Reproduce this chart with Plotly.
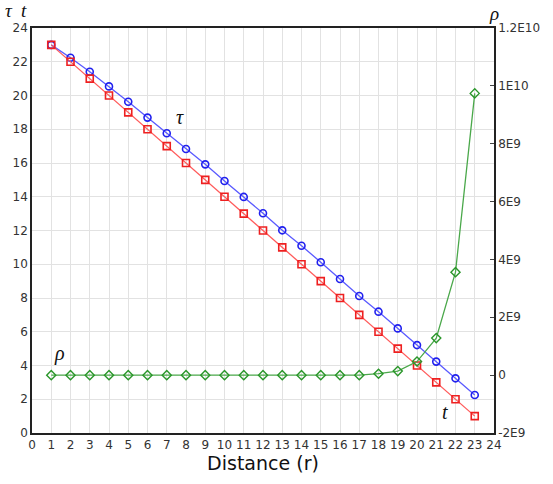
import plotly.graph_objects as go

x_vals = list(range(1, 24))
t_vals = [23, 22, 21, 20, 19, 18, 17, 16, 15, 14, 13, 12, 11, 10, 9, 8, 7, 6, 5, 4, 3, 2, 1]
tau_vals = [23.0, 22.24, 21.41, 20.54, 19.63, 18.69, 17.76, 16.83, 15.92, 14.93, 13.99, 13.02,
            12.01, 11.10, 10.12, 9.13, 8.12, 7.19, 6.20, 5.21, 4.23, 3.24, 2.25]
rho_vals = [0, 0, 0, 0, 0, 0, 0, 0, 0, 0, 0, 0, 0, 0, 0, 0, 0, 0.05e9, 0.14e9, 0.47e9, 1.28e9, 3.56e9, 9.74e9]

x_ticks = list(range(0, 25))
y_ticks = list(range(0, 25, 2))
y2_ticks = [-2e9, 0, 2e9, 4e9, 6e9, 8e9, 1e10, 1.2e10]
y2_text = ["-2E9", "0", "2E9", "4E9", "6E9", "8E9", "1E10", "1.2E10"]

fig = go.Figure()
fig.add_trace(go.Scatter(x=x_vals, y=tau_vals, mode="lines+markers", name="τ",
                         line=dict(color="#5a5aff", width=1.3),
                         marker=dict(symbol="circle-open", size=7, color="#2020ee", line=dict(width=1.6))))
fig.add_trace(go.Scatter(x=x_vals, y=t_vals, mode="lines+markers", name="t",
                         line=dict(color="#ff5a5a", width=1.3),
                         marker=dict(symbol="square-open", size=7, color="#ee2020", line=dict(width=1.6))))
fig.add_trace(go.Scatter(x=x_vals, y=rho_vals, mode="lines+markers", name="ρ", yaxis="y2",
                         line=dict(color="#4aa84a", width=1.3),
                         marker=dict(symbol="diamond-open", size=7, color="#2a962a", line=dict(width=1.4))))

tick_font = dict(family="DejaVu Sans", size=12, color="#333333")
ann_font = dict(family="Liberation Serif", size=20, color="#111111")
top_font = dict(family="Liberation Serif", size=19, color="#111111")

fig.update_layout(
    width=553, height=484,
    margin=dict(l=32, r=59, t=28, b=51),
    plot_bgcolor="white", paper_bgcolor="white",
    showlegend=False,
    xaxis=dict(range=[0, 24], tickvals=x_ticks, showgrid=True, gridcolor="#e2e2e2", gridwidth=1,
               showline=True, linecolor="#222222", linewidth=1.5, mirror=True, zeroline=False,
               ticks="", tickfont=tick_font,
               title=dict(text="Distance (r)", font=dict(family="DejaVu Sans", size=19, color="#111111"), standoff=6)),
    yaxis=dict(range=[0, 24], tickvals=y_ticks, showgrid=True, gridcolor="#e2e2e2", gridwidth=1,
               showline=True, linecolor="#222222", linewidth=1.5, mirror=True, zeroline=False,
               ticks="", tickfont=tick_font),
    yaxis2=dict(range=[-2e9, 1.2e10], tickvals=y2_ticks, ticktext=y2_text, overlaying="y", side="right",
                showgrid=False, zeroline=False, showline=True, linecolor="#222222", linewidth=1.5,
                ticks="inside", ticklen=4, tickcolor="#444444", tickfont=tick_font),
    annotations=[
        dict(text="<i>τ</i>", x=7.7, y=18.7, xref="x", yref="y", showarrow=False, font=ann_font),
        dict(text="<i>ρ</i>", x=1.45, y=4.7, xref="x", yref="y", showarrow=False, font=ann_font),
        dict(text="<i>t</i>", x=21.45, y=1.25, xref="x", yref="y", showarrow=False, font=ann_font),
        dict(text="<i>τ</i>", x=-0.05, y=1.043, xref="paper", yref="paper", showarrow=False,
             xanchor="center", yanchor="middle", font=top_font),
        dict(text="<i>t</i>", x=-0.017, y=1.043, xref="paper", yref="paper", showarrow=False,
             xanchor="center", yanchor="middle", font=top_font),
        dict(text="<i>ρ</i>", x=1.0, y=1.037, xref="paper", yref="paper", showarrow=False,
             xanchor="center", yanchor="middle", font=top_font),
    ],
)

fig.write_html("out.html")
